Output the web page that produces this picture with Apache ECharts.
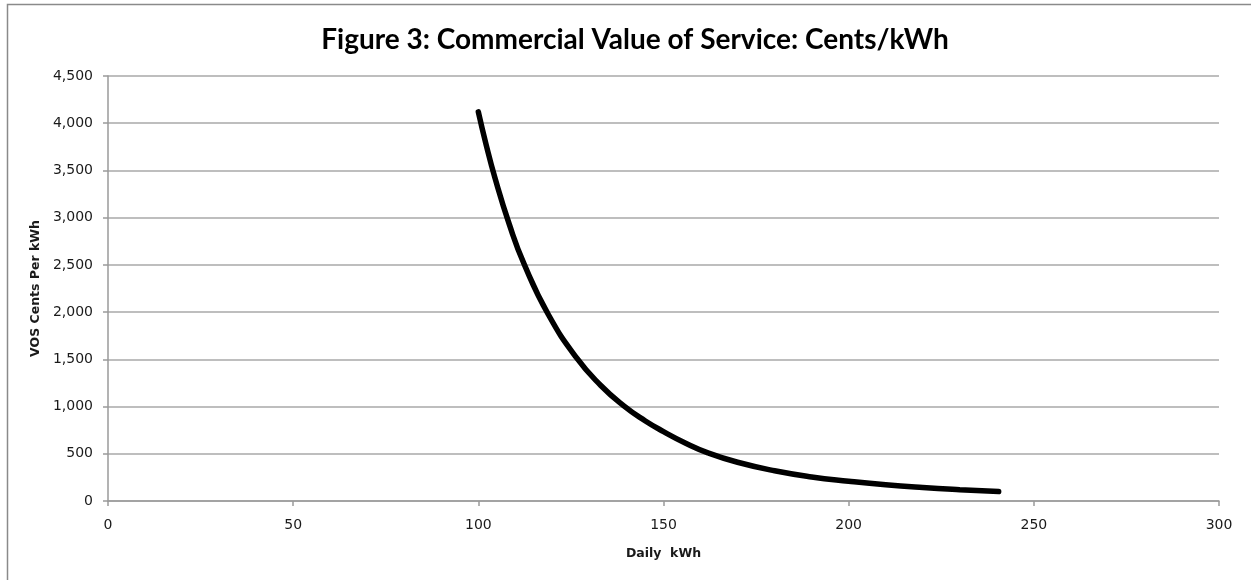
<!DOCTYPE html>
<html>
<head>
<meta charset="utf-8">
<script src="https://cdn.jsdelivr.net/npm/echarts@6/dist/echarts.min.js"></script>
<style>
html,body{margin:0;padding:0;background:#fff;}
#c{width:1251px;height:580px;}
</style>
</head>
<body>
<div id="c"></div>
<script>
const titleText = 'Figure 3: Commercial Value of Service: Cents/kWh';
const xName = 'Daily  kWh';
const yName = 'VOS Cents Per kWh';
const dailyKWh = [100, 102, 104.5, 108.4, 112.4, 118.9, 126.6, 133, 139.2, 145, 150, 156, 162, 170, 180, 190, 200, 210, 220, 230, 240.5];
const vosCents = [4120, 3790, 3420, 2925, 2505, 1975, 1512, 1226, 1010, 850, 735, 612, 510, 410, 320, 255, 210, 172, 143, 120, 100];
const xTicks = {min: 0, max: 300, interval: 50};
const yTicks = {min: 0, max: 4500, interval: 500};

const chart = echarts.init(document.getElementById('c'));
const seriesData = dailyKWh.map((x, i) => [x, vosCents[i]]);
const labelFont = {fontFamily: 'DejaVu Sans', fontSize: 14, color: '#1a1a1a'};
const nameFont = {fontFamily: 'DejaVu Sans', fontWeight: 'bold', fontSize: 12.5, color: '#1a1a1a'};
chart.setOption({
  animation: false,
  backgroundColor: '#fff',
  title: {
    text: titleText,
    left: 630, top: 21, textAlign: 'center',
    textStyle: {fontFamily: 'Lato', fontWeight: 'bold', fontSize: 28, color: '#000'}
  },
  graphic: [{
    type: 'rect', silent: true,
    shape: {x: 7.5, y: 4.5, width: 1300, height: 700},
    style: {fill: 'none', stroke: '#8a8a8a', lineWidth: 1.5}
  }],
  grid: {left: 108, right: 32, top: 76, bottom: 79, containLabel: false},
  xAxis: {
    type: 'value', min: xTicks.min, max: xTicks.max, interval: xTicks.interval,
    name: xName, nameLocation: 'middle', nameGap: 46,
    nameTextStyle: nameFont,
    axisLine: {show: true, lineStyle: {color: '#9a9a9a', width: 1.5}},
    axisTick: {show: true, length: 5, lineStyle: {color: '#9a9a9a', width: 1.5}},
    axisLabel: Object.assign({margin: 17}, labelFont),
    splitLine: {show: false}
  },
  yAxis: {
    type: 'value', min: yTicks.min, max: yTicks.max, interval: yTicks.interval,
    name: yName, nameLocation: 'middle', nameGap: 62, nameRotate: 90,
    nameTextStyle: nameFont,
    axisLine: {show: true, lineStyle: {color: '#9a9a9a', width: 1.5}},
    axisTick: {show: true, length: 5, lineStyle: {color: '#9a9a9a', width: 1.5}},
    axisLabel: Object.assign({margin: 15, formatter: v => v.toLocaleString('en-US')}, labelFont),
    splitLine: {show: true, lineStyle: {color: '#a8a8a8', width: 1.5}}
  },
  series: [{
    type: 'line', data: seriesData, smooth: 0.5, symbol: 'none',
    lineStyle: {color: '#000', width: 5.5, cap: 'round', join: 'round'}
  }]
});
</script>
</body>
</html>
